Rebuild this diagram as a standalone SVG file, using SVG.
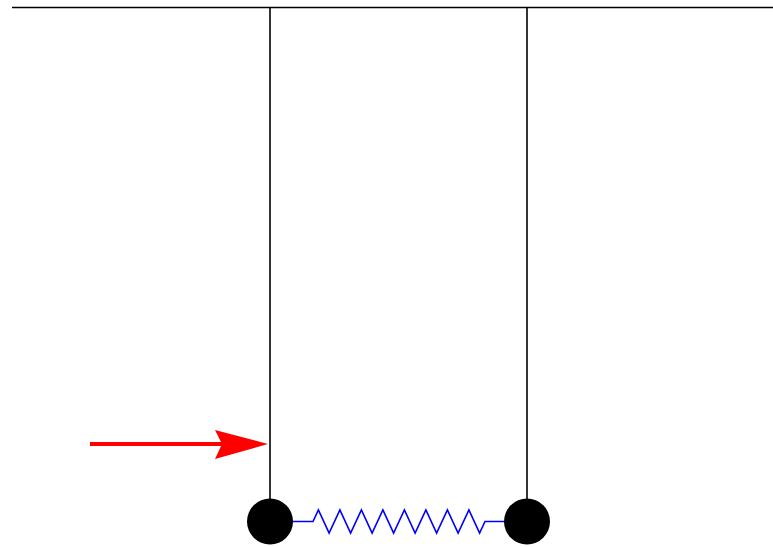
<svg xmlns="http://www.w3.org/2000/svg" width="773" height="547" viewBox="0 0 773 547">
<style>
.rod{stroke:#000;stroke-width:1.6;fill:none}
.ball{fill:#000}
.spring{stroke:#0000ff;stroke-width:1.6;fill:none;stroke-linejoin:miter}
.force{stroke:#ff0000;stroke-width:4;fill:none}
</style>
<rect width="773" height="547" fill="#fff"/>
<g id="ceiling"><line class="rod" x1="12" y1="7.5" x2="773" y2="7.5"/></g>
<g id="connectors">
<line class="rod" x1="270" y1="7.5" x2="270" y2="521"/>
<line class="rod" x1="527" y1="7.5" x2="527" y2="521"/>
<path class="spring" d="M270,521.5 H313 L318.4,510 L329.1,533 L339.9,510 L350.6,533 L361.4,510 L372.1,533 L382.9,510 L393.6,533 L404.4,510 L415.1,533 L425.9,510 L436.6,533 L447.4,510 L458.1,533 L468.9,510 L479.6,533 L485,521.5 H527"/>
<line class="force" x1="90" y1="444" x2="222" y2="444"/>
<path fill="#ff0000" d="M268,444 L215,430 L222,444 L215,459 Z"/>
</g>
<g id="ball-left"><circle class="ball" cx="270" cy="521.5" r="23"/></g>
<g id="ball-right"><circle class="ball" cx="527" cy="521.5" r="23"/></g>
</svg>
